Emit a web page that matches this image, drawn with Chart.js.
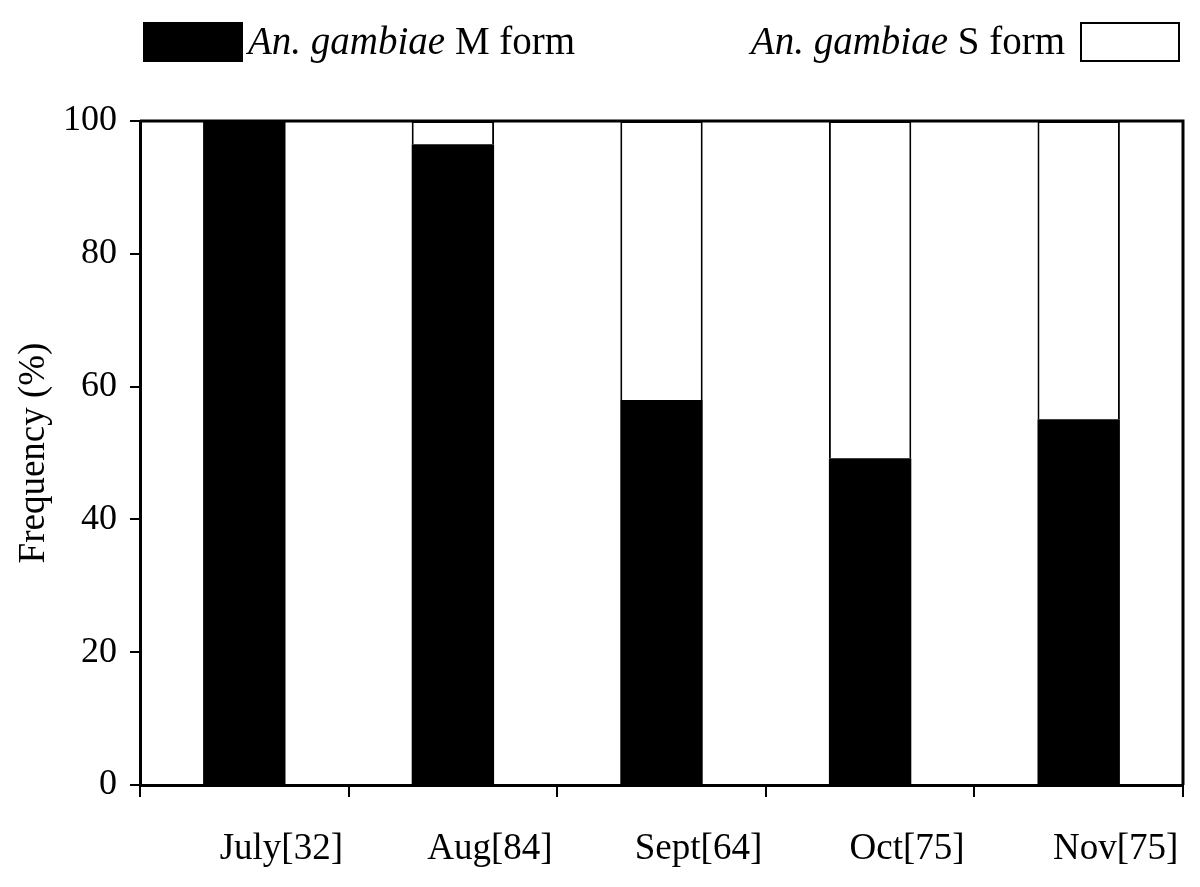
<!DOCTYPE html>
<html>
<head>
<meta charset="utf-8">
<script src="https://cdn.jsdelivr.net/npm/chart.js@4"></script>
<style>
  body { margin: 0; background: #fff; }
  #wrap { position: relative; width: 1200px; height: 887px; }
  #legend { position: absolute; left: 0; top: 0; width: 1200px; height: 90px;
            font-family: 'Liberation Serif', 'Times New Roman', serif; font-size: 39px; color: #000; }
  .item { position: absolute; top: 21px; height: 40px; line-height: 40px; white-space: nowrap; }
  .box { position: absolute; top: 22px; width: 100px; height: 40px; box-sizing: border-box; border: 2px solid #000; }
  .it { font-style: italic; }
</style>
</head>
<body>
<div id="wrap">
  <canvas id="chart" width="1200" height="887"></canvas>
  <div id="legend"></div>
</div>
<script>
const categories = ['July[32]', 'Aug[84]', 'Sept[64]', 'Oct[75]', 'Nov[75]'];
const mFormValues = [100, 96.5, 58, 49.2, 55.1];
const sFormValues = [0, 3.5, 42, 50.8, 44.9];
const seriesNames = [['An. gambiae', ' M form'], ['An. gambiae', ' S form']];
const seriesColors = ['#000000', '#ffffff'];

const serif = "'Liberation Serif', 'Times New Roman', serif";

// legend: black box left of first label, white box right of second label
const legend = document.getElementById('legend');
legend.innerHTML =
  '<div class="box" style="left:143px;background:' + seriesColors[0] + '"></div>' +
  '<div class="item" style="left:248px"><span class="it">' + seriesNames[0][0] + '</span>' + seriesNames[0][1] + '</div>' +
  '<div class="item" style="right:135px"><span class="it">' + seriesNames[1][0] + '</span>' + seriesNames[1][1] + '</div>' +
  '<div class="box" style="left:1080px;background:' + seriesColors[1] + '"></div>';

// frame on top and right of the plot area
const framePlugin = {
  id: 'frame',
  afterDatasetsDraw(chart) {
    const { ctx, chartArea: a } = chart;
    ctx.save();
    ctx.strokeStyle = '#000';
    ctx.lineWidth = 3;
    ctx.beginPath();
    ctx.moveTo(a.left, a.top);
    ctx.lineTo(a.right, a.top);
    ctx.lineTo(a.right, a.bottom);
    ctx.stroke();
    ctx.restore();
  }
};

new Chart(document.getElementById('chart').getContext('2d'), {
  type: 'bar',
  data: {
    labels: categories,
    datasets: [{
      label: seriesNames[0].join(''),
      data: mFormValues,
      backgroundColor: seriesColors[0],
      borderColor: '#000',
      borderWidth: 0,
      categoryPercentage: 1,
      barPercentage: 0.395
    }, {
      label: seriesNames[1].join(''),
      data: sFormValues,
      backgroundColor: seriesColors[1],
      borderColor: '#000',
      borderWidth: 2,
      categoryPercentage: 1,
      barPercentage: 0.395
    }]
  },
  options: {
    responsive: false,
    animation: false,
    layout: { padding: { top: 121, right: 17, left: 0, bottom: 0 } },
    plugins: {
      legend: { display: false },
      tooltip: { enabled: false }
    },
    scales: {
      x: {
        stacked: true,
        afterFit(scale) { scale.height = 102; },
        grid: {
          offset: true,
          drawOnChartArea: false,
          color: '#000',
          lineWidth: 2,
          tickLength: 12
        },
        border: { display: true, color: '#000', width: 3 },
        ticks: {
          color: '#000',
          font: { family: serif, size: 37 },
          padding: 30,
          labelOffset: 37,
          maxRotation: 0,
          autoSkip: false
        }
      },
      y: {
        stacked: true,
        min: 0,
        max: 100,
        afterFit(scale) { scale.width = 140; },
        grid: {
          drawOnChartArea: false,
          color: '#000',
          lineWidth: 2,
          tickLength: 10
        },
        border: { display: true, color: '#000', width: 3 },
        ticks: {
          stepSize: 20,
          color: '#000',
          font: { family: serif, size: 36 },
          padding: 13
        },
        title: {
          display: true,
          text: 'Frequency (%)',
          color: '#000',
          font: { family: serif, size: 37 },
          padding: { top: 12, bottom: 0 }
        }
      }
    }
  },
  plugins: [framePlugin]
});
</script>
</body>
</html>
